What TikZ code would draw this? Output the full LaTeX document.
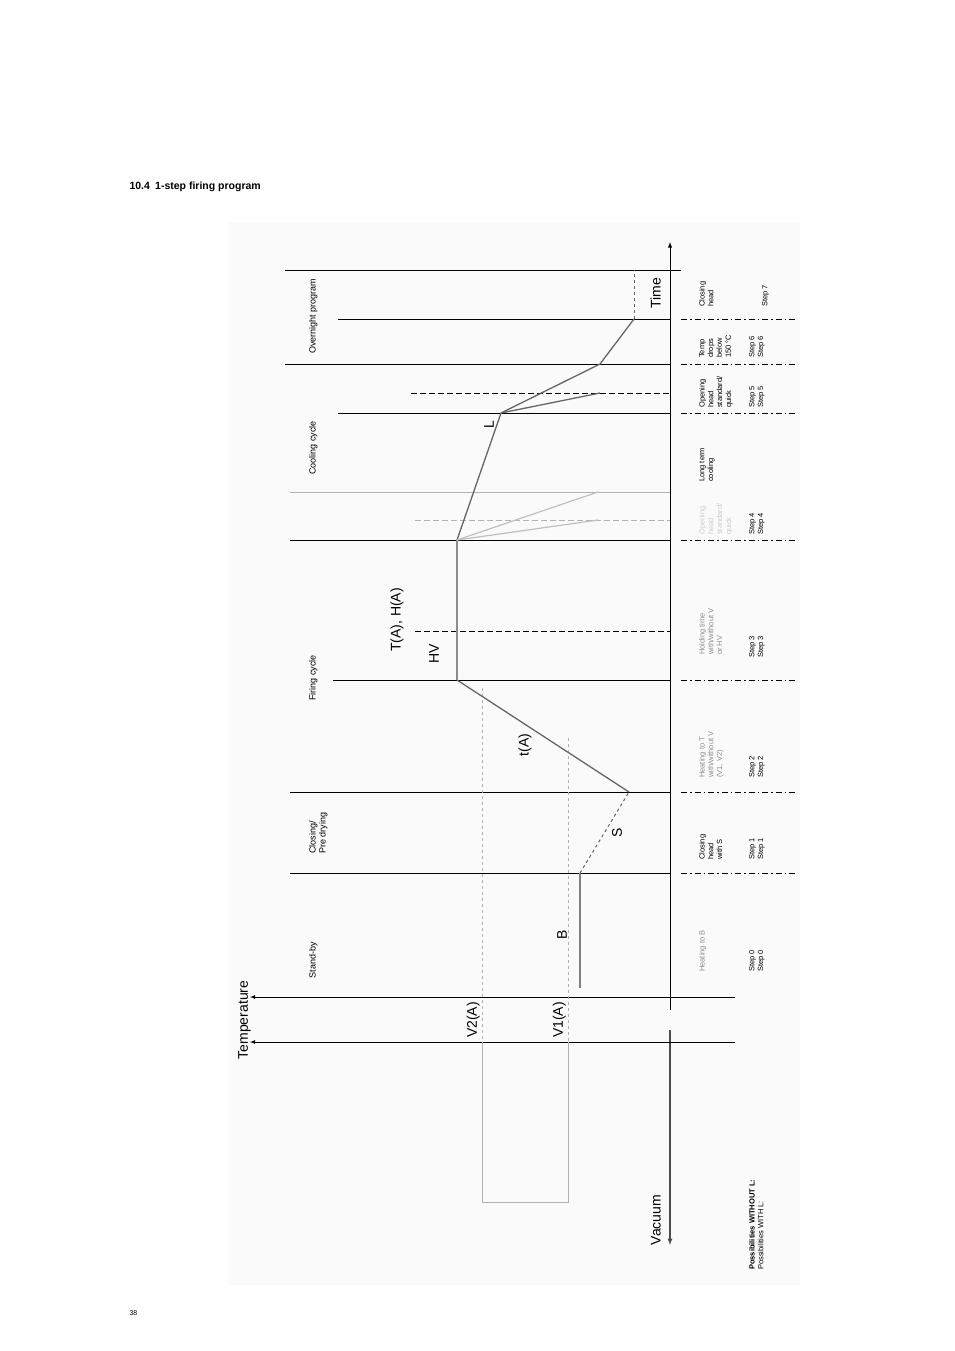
\documentclass[tikz,border=0pt]{standalone}
\usepackage{fontspec}
\setmainfont{Liberation Sans}
\begin{document}
\begin{tikzpicture}[x=1pt,y=-1pt,
  hl/.style={black,line width=0.8pt},
  lg/.style={black!30,line width=0.8pt},
  dd/.style={black,line width=0.8pt,dash pattern=on 6pt off 3pt on 1.5pt off 3pt},
  cv/.style={black!60,line width=1.3pt},
  sm/.style={rotate=90,anchor=north west,align=left,font=\fontsize{7.5}{8.8}\selectfont,inner sep=0pt},
  smg/.style={sm,black!45},
  ph/.style={rotate=90,anchor=north,align=center,font=\fontsize{9}{10}\selectfont,inner sep=0pt},
  big/.style={rotate=90,font=\fontsize{14}{16}\selectfont,inner sep=0pt}]
\useasboundingbox (0,0) rectangle (954,1351);
\fill[black!2] (228,222) rectangle (800,1285);
\node[anchor=west,font=\fontsize{10.5}{12}\selectfont\bfseries] (title) at (126,187) {10.4\enspace 1-step firing program};
\node[anchor=west,font=\fontsize{7}{8}\selectfont] (pg) at (126,1313) {38};
% horizontal lines
\foreach \y/\x in {270/285,319/338,364/285,413/338,540/290,680/333,792/290,873/290}
  \draw[hl] (\x,\y) -- (670,\y);
\draw[hl] (670,270) -- (681,270);
\draw[lg] (290,492) -- (670,492);
\foreach \y in {319,364,413,540,680,792,873}
  \draw[dd] (681,\y) -- (798,\y);
% dashed horizontals
\draw[black,line width=0.8pt,dash pattern=on 6pt off 3pt] (411,393) -- (670,393);
\draw[black,line width=0.8pt,dash pattern=on 6pt off 3pt] (415,631) -- (670,631);
\draw[black!30,line width=0.8pt,dash pattern=on 6pt off 3pt] (415,520) -- (670,520);
% time axis
\coordinate (tT) at (670,242); \coordinate (tM) at (670,1010);
\coordinate (vT) at (670,1030); \coordinate (vB) at (670,1245);
\draw[black,line width=0.9pt,-latex] (tM) -- (tT);
\draw[black!70,line width=1.2pt,-latex] (vT) -- (vB);
\node[big,anchor=south] (time) at (661,293) {Time};
\node[big,anchor=south] (vac) at (661,1220) {Vacuum};
% temperature axes
\coordinate (a1) at (735,997); \coordinate (a1e) at (250,997);
\coordinate (a2) at (735,1042); \coordinate (a2e) at (250,1042);
\draw[black,line width=0.8pt,-latex] (a1) -- (a1e);
\draw[black,line width=0.8pt,-latex] (a2) -- (a2e);
\node[big,anchor=south] (temp) at (251,1020) {Temperature};
% V boxes
\draw[black!30,line width=0.8pt,dashed] (482,688) -- (482,1042);
\draw[black!30,line width=0.8pt,dashed] (568,738) -- (568,1042);
\draw[black!30,line width=0.8pt] (482,1042) -- (482,1202) -- (568,1202) -- (568,1042);
\node[big,anchor=south] (v2) at (480,1020) {V2(A)};
\node[big,anchor=south] (v1) at (566,1020) {V1(A)};
% curve
\coordinate (p0) at (580,988); \coordinate (p1) at (580,873);
\coordinate (p2) at (629,792); \coordinate (p3) at (457,680);
\coordinate (p4) at (457,540); \coordinate (p5) at (501,413);
\coordinate (p6) at (600,364); \coordinate (p6b) at (600,393);
\coordinate (p7) at (634,319); \coordinate (p8) at (634,270);
\draw[black!50,line width=1.2pt] (p0) -- (p1);
\draw[black!60,line width=1pt,dashed] (p1) -- (p2);
\draw[cv] (p2) -- (p3);
\draw[black!45,line width=1.2pt] (p3) -- (p4);
\draw[cv] (p4) -- (p5) -- (p6) -- (p7);
\draw[cv] (p5) -- (p6b);
\draw[black!60,line width=1pt,dashed] (p7) -- (p8);
\draw[black!25,line width=1.2pt] (p4) -- (598,492);
\draw[black!25,line width=1.2pt] (p4) -- (598,520);
% curve labels
\node[big] (lb) at (562,935) {B};
\node[big] (ls) at (617,833) {S};
\node[big] (lt) at (525,745) {t(A)};
\node[big] (lhv) at (434,654) {HV};
\node[big] (lta) at (397,620) {T(A), H(A)};
\node[big] (ll) at (489,425) {L};
% phase labels
\node[ph] (ph1) at (309,316) {Overnight program};
\node[ph] (ph2) at (309,448) {Cooling cycle};
\node[ph] (ph3) at (309,678) {Firing cycle};
\node[ph,align=left] (ph4) at (309,833) {Closing/\\Pre drying};
\node[ph] (ph5) at (309,960) {Stand-by};
% right column
\node[sm] (c7) at (699,307) {Closing\\head};
\node[sm] (s7) at (762,307) {Step 7};
\node[sm] (c6) at (699,358) {Temp\\drops\\below\\150 °C};
\node[sm] (s6) at (749,358) {Step 6\\Step 6};
\node[sm] (c5) at (699,408) {Opening\\head\\standard/\\quick};
\node[sm] (s5) at (749,408) {Step 5\\Step 5};
\node[sm] (c4b) at (699,482) {Long term\\cooling};
\node[sm,black!20] (c4) at (699,535) {Opening\\head\\standard/\\quick};
\node[sm] (s4) at (749,535) {Step 4\\Step 4};
\node[smg] (c3) at (699,655) {Holding time\\with/without V\\or HV};
\node[sm] (s3) at (749,658) {Step 3\\Step 3};
\node[smg] (c2) at (699,778) {Heating to T\\with/without V\\(V1, V2)};
\node[sm] (s2) at (749,778) {Step 2\\Step 2};
\node[sm] (c1) at (699,860) {Closing\\head\\with S};
\node[sm] (s1) at (749,860) {Step 1\\Step 1};
\node[smg] (c0) at (699,972) {Heating to B};
\node[sm] (s0) at (749,972) {Step 0\\Step 0};
\node[sm] (poss) at (749,1270) {\textbf{Possibilities WITHOUT L:}\\Possibilities WITH L:};
\end{tikzpicture}
\end{document}
